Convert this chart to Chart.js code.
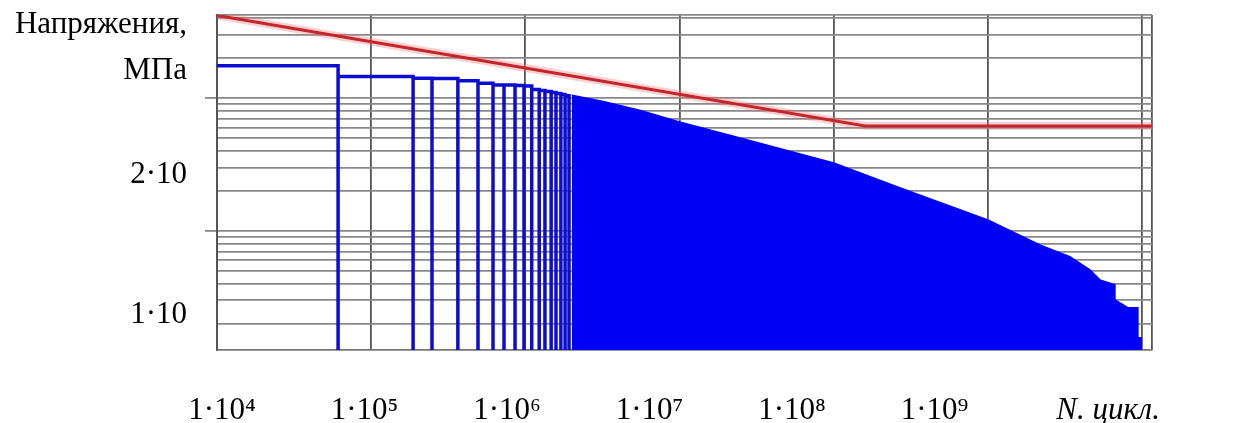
<!DOCTYPE html>
<html lang="ru">
<head>
<meta charset="utf-8">
<title>Напряжения — N, цикл.</title>
<script src="https://cdn.jsdelivr.net/npm/chart.js@4.4.1/dist/chart.umd.min.js"></script>
<style>
  html, body { margin: 0; padding: 0; background: #fff; }
  #wrap { width: 1245px; height: 423px; }
</style>
</head>
<body>
<div id="wrap"><canvas id="fatigue" width="1245" height="423"></canvas></div>
<script>
// кривая усталости: наклонный участок и горизонталь
const fatigueN = [1e4, 1.6e8, 1.16e10];
const fatigueStress = [418, 61.6, 61.6];

// ступени блока нагружения: границы (циклы) и уровни (МПа)
const stepEdges = [1e4, 6.1e4, 1.87e5, 2.48e5, 3.65e5, 4.93e5, 6.17e5, 7.27e5, 8.57e5,
  9.8e5, 1.1e6, 1.23e6, 1.34e6, 1.47e6, 1.58e6, 1.7e6, 1.81e6, 1.92e6];
const stepStress = [175, 145, 141, 140, 135, 129, 125, 125, 124, 123, 116, 114, 112,
  110, 108, 106, 104];

// сплошная часть спектра
const spectrumN = [2.0e6, 3.2e6, 5.5e6, 1e7, 2.47e7, 1e8, 2.7e8, 1e9, 2.17e9, 3.4e9, 4.59e9,
  5.32e9, 6.67e9, 6.67e9, 8.09e9, 9.4e9, 9.4e9, 1.0e10];
const spectrumStress = [105, 94, 81, 66, 50, 32.5, 21, 12.1, 7.85, 6.4, 5.1,
  4.28, 3.93, 3.03, 2.64, 2.64, 1.57, 1.57];

// подписи осей
const xTickLabels = ['1·10⁴', '1·10⁵', '1·10⁶', '1·10⁷', '1·10⁸', '1·10⁹'];
const xAxisTitle = 'N. цикл.';
const yTickLabels = ['2·10', '1·10'];
const yAxisTitle = ['Напряжения,', 'МПа'];

// линии сетки
const xGrid = [1e4, 1e5, 1e6, 1e7, 1e8, 1e9, 1e10];
const yGrid = [2, 3, 4, 5, 6, 7, 8, 9, 10, 20, 30, 40, 50, 60, 70, 80, 90, 100, 200, 300, 400];
const yMajor = [10, 100];

const X_MIN = 1e4, X_MAX = 1.16e10;
const Y_MIN = 1.27, Y_MAX = 421;
const FONT = '"Liberation Serif", "Times New Roman", serif';

function zip(xs, ys) {
  return xs.map((x, i) => ({x: x, y: ys[i]}));
}

// контур ступеней: каждая граница опускается до низа графика
function stepOutline(edges, levels, floor) {
  const pts = [{x: edges[0], y: levels[0]}];
  for (let i = 1; i < edges.length; i++) {
    pts.push({x: edges[i], y: levels[i - 1]});
    pts.push({x: edges[i], y: floor});
    if (i < levels.length) pts.push({x: edges[i], y: levels[i]});
  }
  return pts;
}

function fixSize(prop, size) {
  return scale => {
    scale[prop] = size;
    scale.paddingLeft = scale.paddingRight = scale.paddingTop = scale.paddingBottom = 0;
  };
}

const fatiguePts = zip(fatigueN, fatigueStress);

new Chart(document.getElementById('fatigue'), {
  type: 'line',
  data: {
    datasets: [
      {
        data: fatiguePts,
        borderColor: '#c4262b',
        borderWidth: 3,
        order: 0
      },
      {
        data: fatiguePts,
        borderColor: 'rgba(238, 120, 120, 0.35)',
        borderWidth: 8,
        order: 1
      },
      {
        data: stepOutline(stepEdges, stepStress, Y_MIN),
        borderColor: '#0c0cd2',
        borderWidth: 3.5,
        borderJoinStyle: 'miter',
        order: 2
      },
      {
        data: zip(spectrumN, spectrumStress),
        borderColor: '#0000f5',
        backgroundColor: '#0000f5',
        borderWidth: 1.5,
        fill: 'start',
        order: 3
      }
    ]
  },
  options: {
    responsive: false,
    animation: false,
    events: [],
    layout: {padding: {top: 15, right: 93, left: 0, bottom: 0}},
    elements: {
      point: {radius: 0},
      line: {tension: 0, fill: false}
    },
    plugins: {
      legend: {display: false},
      tooltip: {enabled: false}
    },
    scales: {
      x: {
        type: 'logarithmic',
        position: 'bottom',
        weight: 0,
        min: X_MIN,
        max: X_MAX,
        afterBuildTicks: s => { s.ticks = xGrid.concat(X_MAX).map(v => ({value: v})); },
        ticks: {display: false},
        grid: {color: '#555', lineWidth: 1.8, drawTicks: false},
        border: {color: '#777', width: 1.8},
        afterFit: fixSize('height', 0)
      },
      y: {
        type: 'logarithmic',
        position: 'left',
        weight: 0,
        min: Y_MIN,
        max: Y_MAX,
        afterBuildTicks: s => {
          s.ticks = yGrid.concat(Y_MAX).map(v => ({value: v, major: yMajor.includes(v)}));
        },
        ticks: {display: false},
        grid: {
          color: '#888',
          lineWidth: 1.8,
          tickLength: 12,
          tickColor: c => (c.tick && c.tick.major ? '#888' : 'rgba(0,0,0,0)')
        },
        border: {color: '#555', width: 1.8},
        afterFit: fixSize('width', 12)
      },
      xl: {
        type: 'linear',
        position: 'bottom',
        weight: 1,
        min: -0.0351,
        max: 6.526,
        afterBuildTicks: s => {
          s.ticks = [0, 1, 2, 3, 4, 5, 6.218].map(v => ({value: v}));
        },
        grid: {display: false, drawTicks: false},
        border: {display: false},
        ticks: {
          autoSkip: false,
          maxRotation: 0,
          padding: 42,
          color: '#000',
          font: c => ({family: FONT, size: 31, style: c.index === xTickLabels.length ? 'italic' : 'normal'}),
          callback: (v, i) => (i < xTickLabels.length ? xTickLabels[i] : xAxisTitle)
        },
        afterFit: fixSize('height', 73)
      },
      yl: {
        type: 'linear',
        position: 'left',
        weight: 1,
        min: 0,
        max: 335,
        reverse: true,
        afterBuildTicks: s => {
          s.ticks = [10, 56, 160, 300].map(v => ({value: v}));
        },
        grid: {display: false, drawTicks: false},
        border: {display: false},
        ticks: {
          autoSkip: false,
          padding: 18,
          color: '#000',
          font: {family: FONT, size: 31},
          callback: (v, i) => yAxisTitle.concat(yTickLabels)[i]
        },
        afterFit: fixSize('width', 205)
      }
    }
  }
});
</script>
</body>
</html>
